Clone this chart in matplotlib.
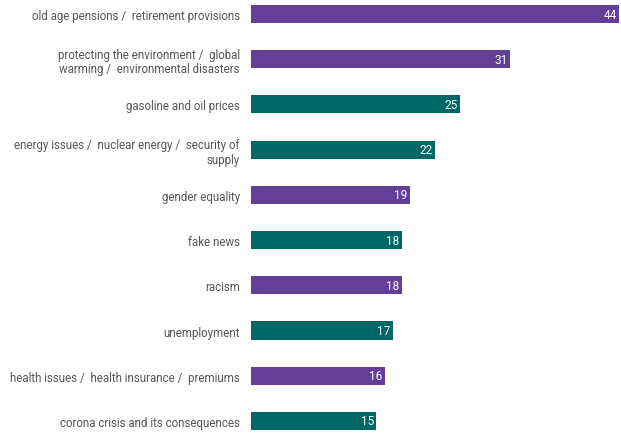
import matplotlib
matplotlib.use("Agg")
import matplotlib.pyplot as plt

categories = [
    "old age pensions /  retirement provisions",
    "protecting the environment /  global\nwarming /  environmental disasters",
    "gasoline and oil prices",
    "energy issues /  nuclear energy /  security of\nsupply",
    "gender equality",
    "fake news",
    "racism",
    "unemployment",
    "health issues /  health insurance /  premiums",
    "corona crisis and its consequences",
]
values = [44, 31, 25, 22, 19, 18, 18, 17, 16, 15]
groups = ["p", "p", "t", "t", "p", "t", "p", "t", "p", "t"]
palette = {"p": "#643f98", "t": "#006666"}

plt.rcParams['font.family'] = ['Roboto', 'DejaVu Sans']

fig = plt.figure(figsize=(6.21, 4.35), dpi=100)
ax = fig.add_axes([251/621, 0.004, 368/621, 0.9875])
ys = list(range(len(values)))
ax.barh(ys, values, height=0.4, color=[palette[g] for g in groups])
for y, v in zip(ys, values):
    ax.text(v - 0.3, y, str(v), ha='right', va='center', color='white', fontsize=8.5)
ax.set_xlim(0, 44)
ax.set_ylim(9.25, -0.25)
ax.set_yticks(ys)
ax.set_yticklabels(categories, fontsize=8.3, color='#555555', ha='right', linespacing=1.15)
ax.tick_params(axis='y', length=0, pad=8)
ax.set_xticks([])
for s in ax.spines.values():
    s.set_visible(False)
fig.savefig("out.png", dpi=100)
